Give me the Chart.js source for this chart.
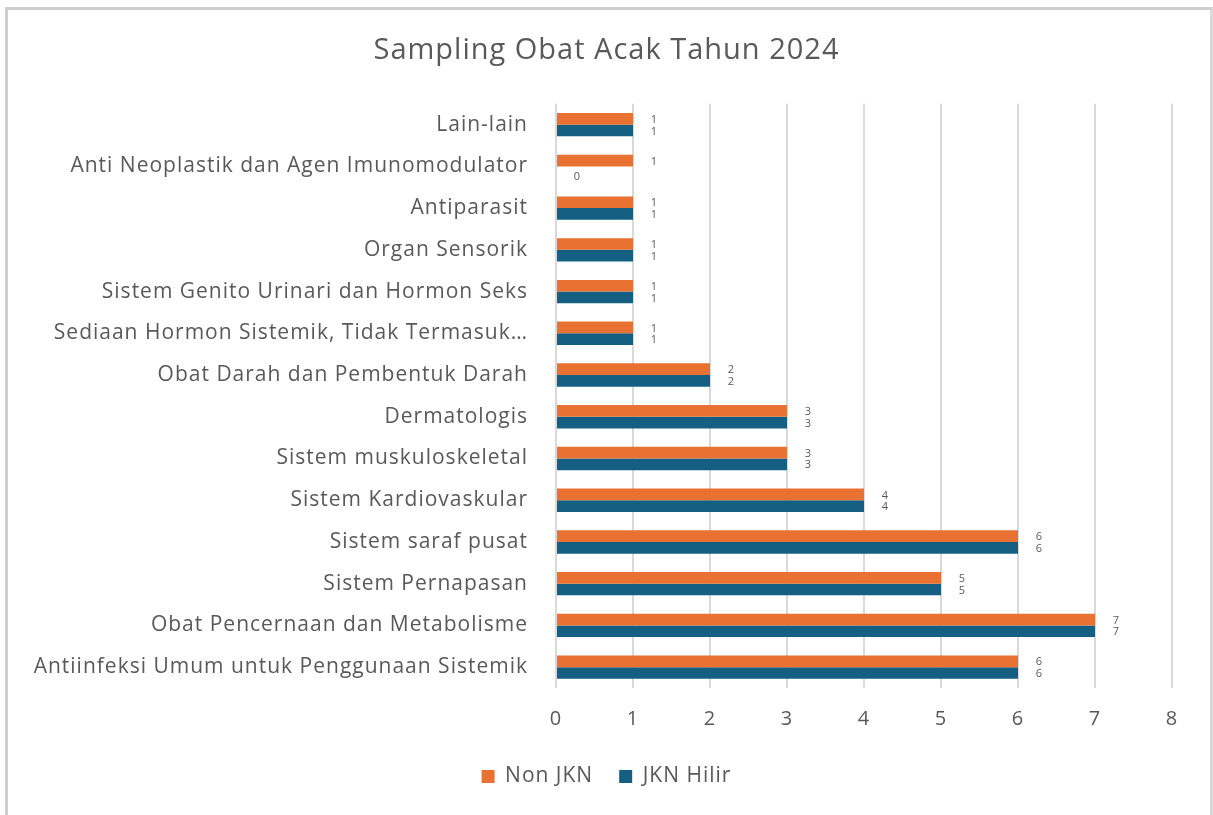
<!DOCTYPE html>
<html>
<head>
<meta charset="utf-8">
<script src="https://cdn.jsdelivr.net/npm/chart.js@4.4.1/dist/chart.umd.min.js"></script>
<style>
  html, body { margin: 0; padding: 0; background: #fff; }
  .wrap { position: relative; width: 1213px; height: 815px; }
  .frame {
    position: absolute; left: 5px; top: 7px; width: 1202px; height: 820px;
    border-top: 3px solid #cfcfcf; border-left: 3px solid #cfcfcf; border-right: 3px solid #d9d9d9;
    pointer-events: none;
  }
  canvas { position: absolute; left: 0; top: 0; }
</style>
</head>
<body>
<div class="wrap">
  <canvas id="chart" width="1213" height="815"></canvas>
  <div class="frame"></div>
</div>
<script>
"use strict";
const categories = [
  "Lain-lain",
  "Anti Neoplastik dan Agen Imunomodulator",
  "Antiparasit",
  "Organ Sensorik",
  "Sistem Genito Urinari dan Hormon Seks",
  "Sediaan Hormon Sistemik, Tidak Termasuk…",
  "Obat Darah dan Pembentuk Darah",
  "Dermatologis",
  "Sistem muskuloskeletal",
  "Sistem Kardiovaskular",
  "Sistem saraf pusat",
  "Sistem Pernapasan",
  "Obat Pencernaan dan Metabolisme",
  "Antiinfeksi Umum untuk Penggunaan Sistemik"
];
const nonJkn = [1, 1, 1, 1, 1, 1, 2, 3, 3, 4, 6, 5, 7, 6];
const jknHilir = [1, 0, 1, 1, 1, 1, 2, 3, 3, 4, 6, 5, 7, 6];
const xTicks = [0, 1, 2, 3, 4, 5, 6, 7, 8];

const textColor = "#595959";
const fontFamily = "'Open Sans', 'Noto Sans', sans-serif";

// wider letter spacing, like the original office rendering
const spacing = {
  id: "spacing",
  beforeUpdate(chart) { chart.ctx.letterSpacing = "1px"; },
  beforeDraw(chart) { chart.ctx.letterSpacing = "1px"; }
};

// small value labels at the end of each bar
const barValues = {
  id: "barValues",
  afterDatasetsDraw(chart) {
    const ctx = chart.ctx;
    ctx.save();
    ctx.letterSpacing = "0px";
    ctx.font = "11px " + fontFamily;
    ctx.fillStyle = textColor;
    ctx.textAlign = "center";
    ctx.textBaseline = "middle";
    chart.data.datasets.forEach((ds, i) => {
      chart.getDatasetMeta(i).data.forEach((bar, j) => {
        const dy = ds.data[j] === 0 ? 4 : 0;
        ctx.fillText(String(ds.data[j]), bar.x + 21, bar.y + dy + 1);
      });
    });
    ctx.restore();
  }
};

new Chart(document.getElementById("chart").getContext("2d"), {
  type: "bar",
  data: {
    labels: categories,
    datasets: [
      { label: "Non JKN", data: nonJkn, backgroundColor: "#E97132" },
      { label: "JKN Hilir", data: jknHilir, backgroundColor: "#156082" }
    ]
  },
  plugins: [spacing, barValues],
  options: {
    indexAxis: "y",
    responsive: false,
    animation: false,
    layout: { padding: { top: 20, right: 41, bottom: 18, left: 41 } },
    datasets: { bar: { categoryPercentage: 0.56, barPercentage: 1 } },
    plugins: {
      title: {
        display: true,
        text: "Sampling Obat Acak Tahun 2024",
        color: textColor,
        font: { family: fontFamily, size: 29, weight: "normal" },
        padding: { top: 13, bottom: 36 }
      },
      legend: {
        position: "bottom",
        labels: {
          color: textColor,
          font: { family: fontFamily, size: 21 },
          boxWidth: 13,
          boxHeight: 13,
          padding: 26
        }
      },
      tooltip: { enabled: false }
    },
    scales: {
      x: {
        min: 0,
        max: 8,
        afterBuildTicks(scale) { scale.ticks = xTicks.map(v => ({ value: v })); },
        afterFit(scale) { scale.height = 52; },
        grid: { color: "#d9d9d9", lineWidth: 2, drawTicks: false },
        border: { display: false },
        ticks: {
          color: textColor,
          padding: 19,
          font: { family: fontFamily, size: 20 }
        }
      },
      y: {
        afterFit(scale) {
          scale.width = 515;
          // long labels reach into the left padding, so don't clip them
          scale._computeLabelArea = () => undefined;
        },
        grid: { display: false },
        border: { display: false },
        ticks: {
          color: textColor,
          padding: 20,
          font: { family: fontFamily, size: 21 }
        }
      }
    }
  }
});
</script>
</body>
</html>
